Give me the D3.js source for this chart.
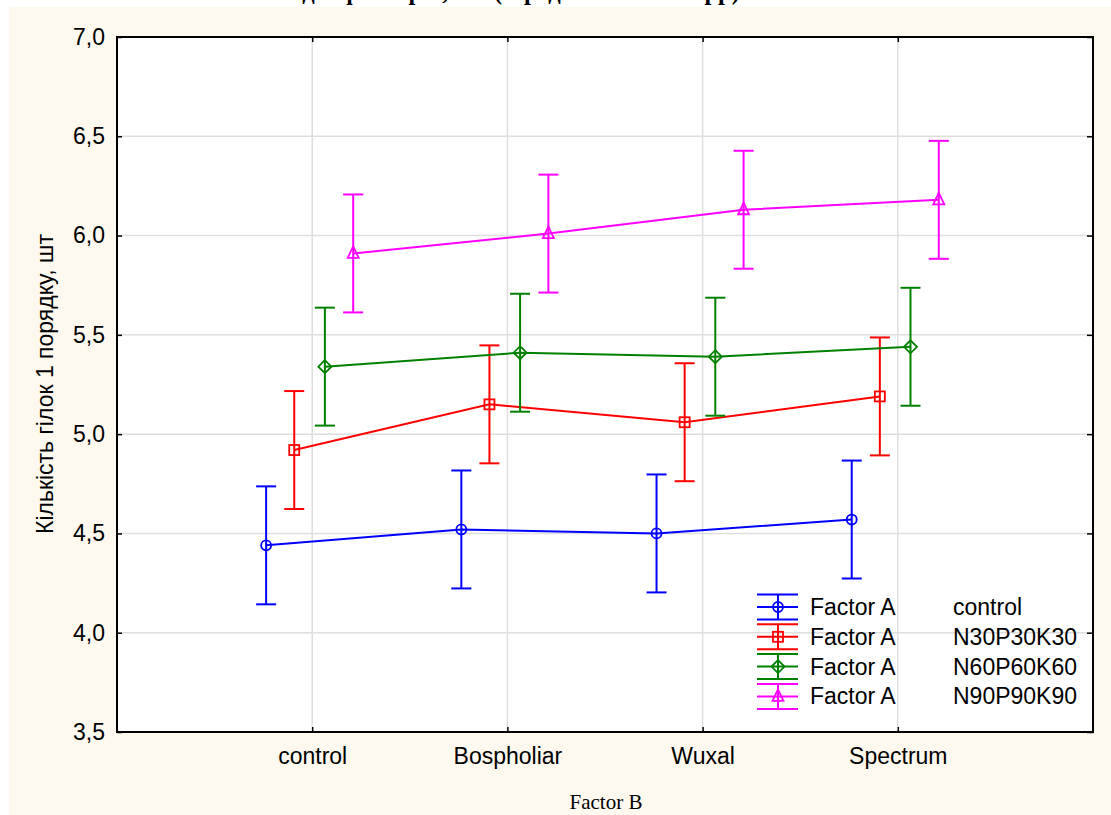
<!DOCTYPE html>
<html>
<head>
<meta charset="utf-8">
<script src="https://cdn.jsdelivr.net/npm/d3@7"></script>
<style>
  html, body { margin: 0; padding: 0; background: #ffffff; }
  svg { display: block; }
</style>
</head>
<body>
<svg id="chart" width="1111" height="815"></svg>
<script>
// ---- data ----
const categories = ["control", "Bospholiar", "Wuxal", "Spectrum"];
const seriesNames = ["control", "N30P30K30", "N60P60K60", "N90P90K90"];
const valuesControl = [4.44, 4.52, 4.50, 4.57];
const valuesN30 = [4.92, 5.15, 5.06, 5.19];
const valuesN60 = [5.34, 5.41, 5.39, 5.44];
const valuesN90 = [5.91, 6.01, 6.13, 6.18];
const ciHalf = [0.297, 0.297, 0.297, 0.297];
const yTicks = [3.5, 4.0, 4.5, 5.0, 5.5, 6.0, 6.5, 7.0];
const yTitle = "Кількість гілок 1 порядку, шт";
const xTitle = "Factor B";
const legendPrefix = "Factor A";
const chartTitle = "Взаємодія факторів, шт (середнє 2019-2021 рр)";

// ---- styles ----
const colors = ["#0000ff", "#ff0000", "#008000", "#ff00ff"];
const symbols = ["circle", "square", "diamond", "triangle"];
const offsets = [-0.236, -0.092, 0.065, 0.21];

const svg = d3.select("#chart");
const W = 1111, H = 815;
const pLeft = 117, pRight = 1093, pTop = 37, pBottom = 732;
const axisFont = "'Liberation Sans', Arial, sans-serif";
const serifFont = "'Liberation Serif', 'Times New Roman', serif";
const fontPx = "23px";

// title (sits above the panel, mostly hidden by it)
svg.append("text")
  .attr("x", 225).attr("y", -1)
  .attr("textLength", 515).attr("lengthAdjust", "spacingAndGlyphs")
  .style("font-family", serifFont)
  .style("font-weight", "bold")
  .style("font-size", "27px")
  .text(chartTitle);

// cream panel
svg.append("rect").attr("x", 9).attr("y", 7).attr("width", W - 9).attr("height", H - 7)
  .attr("fill", "#fef9ef");

// plot area
svg.append("rect").attr("x", pLeft).attr("y", pTop).attr("width", pRight - pLeft).attr("height", pBottom - pTop)
  .attr("fill", "#ffffff");

const x = d3.scaleLinear().domain([0, categories.length + 1]).range([pLeft, pRight]);
const y = d3.scaleLinear().domain([3.5, 7.0]).range([pBottom, pTop]);

// grid
const grid = svg.append("g").attr("stroke", "#dedede").attr("stroke-width", 1.5);
grid.selectAll("line.h").data(yTicks.slice(1, -1)).join("line")
  .attr("x1", pLeft).attr("x2", pRight).attr("y1", d => y(d)).attr("y2", d => y(d));
grid.selectAll("line.v").data(categories).join("line")
  .attr("x1", (d, i) => x(i + 1)).attr("x2", (d, i) => x(i + 1))
  .attr("y1", pTop).attr("y2", pBottom);

// axes (ticks pointing inward)
const fmt = d => d3.format(".1f")(d).replace(".", ",");

const yAxisL = svg.append("g").attr("transform", `translate(${pLeft},0)`)
  .call(d3.axisLeft(y).tickValues(yTicks).tickFormat(fmt).tickSizeInner(-5).tickSizeOuter(0).tickPadding(12));
const yAxisR = svg.append("g").attr("transform", `translate(${pRight},0)`)
  .call(d3.axisRight(y).tickValues(yTicks).tickFormat("").tickSizeInner(-6).tickSizeOuter(0));
const xAxisB = svg.append("g").attr("transform", `translate(0,${pBottom})`)
  .call(d3.axisBottom(x).tickValues(categories.map((d, i) => i + 1))
    .tickFormat((d, i) => categories[i]).tickSizeInner(-5).tickSizeOuter(0).tickPadding(16));
const xAxisT = svg.append("g").attr("transform", `translate(0,${pTop})`)
  .call(d3.axisTop(x).tickValues(categories.map((d, i) => i + 1))
    .tickFormat("").tickSizeInner(-5).tickSizeOuter(0));

[yAxisL, yAxisR, xAxisB, xAxisT].forEach(g => {
  g.select(".domain").remove();
  g.selectAll("line").attr("stroke", "#000").attr("stroke-width", 1.5);
  g.selectAll("text").style("font-family", axisFont).style("font-size", fontPx).attr("fill", "#000");
});

// frame
svg.append("rect").attr("x", pLeft).attr("y", pTop).attr("width", pRight - pLeft).attr("height", pBottom - pTop)
  .attr("fill", "none").attr("stroke", "#000").attr("stroke-width", 2);

// axis titles
svg.append("text")
  .attr("transform", `translate(53,384) rotate(-90)`)
  .attr("text-anchor", "middle")
  .style("font-family", axisFont).style("font-size", fontPx)
  .text(yTitle);
svg.append("text")
  .attr("x", 606).attr("y", 809)
  .attr("text-anchor", "middle")
  .style("font-family", serifFont).style("font-size", "21px")
  .text(xTitle);

// marker drawing
function drawMarker(g, type, cx, cy, color) {
  let el;
  if (type === "circle") {
    el = g.append("circle").attr("cx", cx).attr("cy", cy).attr("r", 5);
  } else if (type === "square") {
    el = g.append("rect").attr("x", cx - 5).attr("y", cy - 5).attr("width", 10).attr("height", 10);
  } else if (type === "diamond") {
    el = g.append("path").attr("d", `M${cx},${cy - 6.5}L${cx + 6.5},${cy}L${cx},${cy + 6.5}L${cx - 6.5},${cy}Z`);
  } else {
    el = g.append("path").attr("d", `M${cx},${cy - 7}L${cx + 5.5},${cy + 4.5}L${cx - 5.5},${cy + 4.5}Z`);
  }
  el.attr("fill", "none").attr("stroke", color).attr("stroke-width", 1.8);
}

const allSeries = [valuesControl, valuesN30, valuesN60, valuesN90];
const plot = svg.append("g");

allSeries.forEach((vals, si) => {
  const col = colors[si];
  const pts = vals.map((v, ci) => ({ cx: x(ci + 1 + offsets[si]), v }));
  const g = plot.append("g");
  // error bars
  pts.forEach(p => {
    const hi = y(p.v + ciHalf[si]), lo = y(p.v - ciHalf[si]);
    g.append("line").attr("x1", p.cx).attr("x2", p.cx).attr("y1", hi).attr("y2", lo)
      .attr("stroke", col).attr("stroke-width", 2);
    [hi, lo].forEach(yy => g.append("line")
      .attr("x1", p.cx - 10).attr("x2", p.cx + 10).attr("y1", yy).attr("y2", yy)
      .attr("stroke", col).attr("stroke-width", 2));
  });
  // connecting line
  g.append("path")
    .datum(pts)
    .attr("d", d3.line().x(p => p.cx).y(p => y(p.v)))
    .attr("fill", "none").attr("stroke", col).attr("stroke-width", 2);
  pts.forEach(p => drawMarker(g, symbols[si], p.cx, y(p.v), col));
});

// legend
const legend = svg.append("g");
seriesNames.forEach((name, i) => {
  const ly = 607 + i * 29.8;
  const col = colors[i];
  const lx0 = 757, lx1 = 798, lcx = 778;
  [ly - 12.5, ly, ly + 12.5].forEach(yy => legend.append("line")
    .attr("x1", lx0).attr("x2", lx1).attr("y1", yy).attr("y2", yy)
    .attr("stroke", col).attr("stroke-width", 2));
  legend.append("line").attr("x1", lcx).attr("x2", lcx).attr("y1", ly - 12.5).attr("y2", ly + 12.5)
    .attr("stroke", col).attr("stroke-width", 2);
  drawMarker(legend, symbols[i], lcx, ly, col);
  legend.append("text").attr("x", 810).attr("y", ly + 8)
    .style("font-family", axisFont).style("font-size", fontPx).text(legendPrefix);
  legend.append("text").attr("x", 953).attr("y", ly + 8)
    .style("font-family", axisFont).style("font-size", fontPx).text(name);
});
</script>
</body>
</html>
